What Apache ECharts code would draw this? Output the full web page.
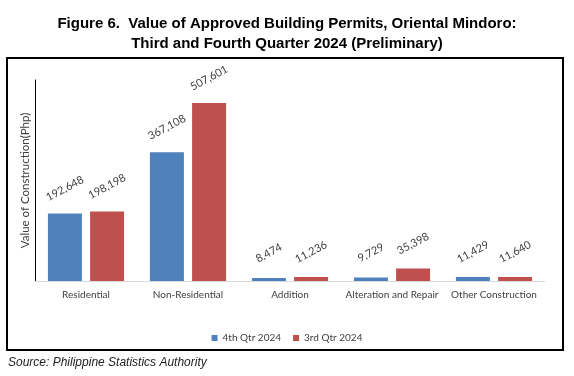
<!DOCTYPE html>
<html>
<head>
<meta charset="utf-8">
<script src="https://cdn.jsdelivr.net/npm/echarts@6/dist/echarts.min.js"></script>
<style>
  html, body { margin: 0; padding: 0; background: #fff; }
  #chart { width: 574px; height: 376px; }
</style>
</head>
<body>
<div id="chart"></div>
<script>
// Value of approved building permits, Oriental Mindoro (Php thousand)
const CATEGORIES = ["Residential", "Non-Residential", "Addition", "Alteration and Repair", "Other Construction"];
const Q4_2024 = [192648, 367108, 8474, 9729, 11429];
const Q3_2024 = [198198, 507601, 11236, 35398, 11640];
const SERIES_NAMES = ["4th Qtr 2024", "3rd Qtr 2024"];

const BLUE = "#4f81bd";
const RED = "#c0504d";
const LABEL_FONT = "Lato, 'Open Sans', sans-serif";
const ARIAL = "'Liberation Sans', Arial, sans-serif";

const fmt = (v) => v.toLocaleString("en-US");

function barSeries(name, data, color) {
  return {
    name: name,
    type: "bar",
    data: data,
    barWidth: 34,
    barGap: "24%",
    itemStyle: { color: color },
    label: {
      show: true,
      position: "top",
      distance: 25,
      rotate: 28,
      align: "center",
      verticalAlign: "middle",
      color: "#404040",
      fontFamily: LABEL_FONT,
      fontSize: 11,
      formatter: (p) => fmt(p.value),
    },
  };
}

const chart = echarts.init(document.getElementById("chart"), null, { renderer: "canvas" });

chart.setOption({
  animation: false,
  backgroundColor: "#fff",
  title: {
    text: "Figure 6.  Value of Approved Building Permits, Oriental Mindoro:\nThird and Fourth Quarter 2024 (Preliminary)",
    left: "center",
    top: 9,
    textStyle: {
      fontFamily: ARIAL,
      fontSize: 15,
      fontWeight: "bold",
      color: "#000",
      lineHeight: 20,
      align: "center",
    },
  },
  grid: { left: 35, right: 29, top: 80, bottom: 95 },
  legend: {
    top: 328,
    left: "center",
    icon: "rect",
    itemWidth: 6,
    itemHeight: 6,
    itemGap: 12,
    textStyle: { color: "#404040", fontFamily: LABEL_FONT, fontSize: 10 },
    data: SERIES_NAMES,
  },
  xAxis: {
    type: "category",
    data: CATEGORIES,
    axisLine: { lineStyle: { color: "#d9d9d9", width: 1 } },
    axisTick: { show: false },
    axisLabel: {
      color: "#404040",
      fontFamily: LABEL_FONT,
      fontSize: 10,
      margin: 9,
      interval: 0,
    },
  },
  yAxis: {
    type: "value",
    min: 0,
    max: 573000,
    name: "Value of Construction(Php)",
    nameLocation: "middle",
    nameRotate: 90,
    nameGap: 4,
    nameTextStyle: { color: "#404040", fontFamily: LABEL_FONT, fontSize: 11.5 },
    axisLine: { show: true, lineStyle: { color: "#000", width: 1 } },
    axisTick: { show: false },
    axisLabel: { show: false },
    splitLine: { show: false },
  },
  graphic: [
    {
      type: "rect",
      shape: { x: 7, y: 58, width: 556, height: 292 },
      style: { fill: "none", stroke: "#000", lineWidth: 2 },
      silent: true,
    },
    {
      type: "text",
      x: 8,
      y: 363,
      style: {
        text: "Source: Philippine Statistics Authority",
        fontFamily: ARIAL,
        fontStyle: "italic",
        fontSize: 12,
        fill: "#222",
        verticalAlign: "middle",
      },
    },
  ],
  series: [
    barSeries(SERIES_NAMES[0], Q4_2024, BLUE),
    barSeries(SERIES_NAMES[1], Q3_2024, RED),
  ],
});
</script>
</body>
</html>
